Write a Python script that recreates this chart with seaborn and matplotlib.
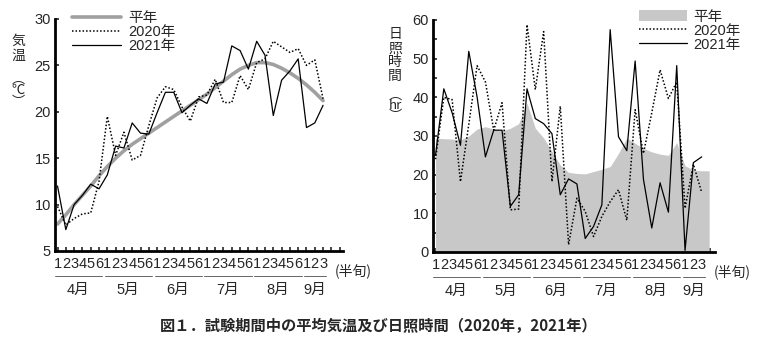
import numpy as np
import pandas as pd
import matplotlib
matplotlib.use("Agg")
import matplotlib.pyplot as plt
import seaborn as sns

# --- data -------------------------------------------------------------
pentad_labels = ["1", "2", "3", "4", "5", "6"] * 5 + ["1", "2", "3"]
months = ["4月", "5月", "6月", "7月", "8月", "9月"]
pentads_per_month = [6, 6, 6, 6, 6, 3]

temp_normal = [7.9, 8.9, 10.0, 11.0, 12.0, 13.1, 14.1, 15.0, 15.8, 16.5, 17.1,
               17.7, 18.3, 18.9, 19.5, 20.1, 20.7, 21.3, 21.9, 22.6, 23.3, 24.0,
               24.6, 25.0, 25.3, 25.3, 25.1, 24.7, 24.2, 23.6, 22.9, 22.1, 21.2]
temp_2020 = [9.8, 7.8, 8.5, 9.0, 9.1, 12.5, 19.5, 15.3, 17.8, 14.8, 15.3,
             18.5, 21.5, 22.7, 22.4, 20.5, 19.0, 21.6, 21.8, 23.5, 21.0, 21.0,
             23.9, 22.4, 25.3, 25.7, 27.6, 27.0, 26.4, 26.8, 25.0, 25.6, 21.4]
temp_2021 = [12.0, 7.3, 10.0, 11.0, 12.2, 11.7, 13.2, 16.3, 16.1, 18.8, 17.7,
             17.6, 19.9, 22.1, 22.1, 19.9, 20.7, 21.4, 20.9, 23.0, 23.2, 27.1,
             26.6, 24.6, 27.6, 26.1, 19.6, 23.4, 24.4, 25.7, 18.3, 18.8, 20.7]

sun_normal = [29.4, 29.3, 29.2, 29.0, 30.0, 31.8, 32.4, 31.8, 31.3, 32.0, 33.2,
              38.5, 32.0, 29.5, 26.0, 22.5, 20.6, 20.3, 20.2, 20.8, 21.4, 22.1,
              25.5, 29.5, 28.1, 26.8, 25.9, 25.3, 25.0, 28.3, 22.3, 21.2, 21.0]
sun_2020 = [24.0, 40.0, 39.4, 18.2, 33.0, 48.2, 44.0, 31.5, 38.6, 10.9, 11.1,
            58.8, 42.0, 57.0, 18.2, 37.7, 1.9, 13.9, 10.5, 4.0, 9.2, 13.0,
            16.1, 8.2, 36.8, 25.5, 36.0, 47.1, 39.7, 44.0, 11.3, 22.7, 15.4]
sun_2021 = [25.0, 42.2, 36.0, 27.6, 51.9, 40.1, 24.6, 31.5, 31.5, 11.8, 14.8,
            42.2, 34.5, 33.2, 30.6, 14.8, 18.9, 17.6, 3.5, 6.6, 12.2, 57.5,
            29.8, 26.2, 49.4, 18.8, 6.2, 17.9, 10.3, 48.2, 0.4, 23.1, 24.6]

idx = np.arange(len(pentad_labels))
temp_df = pd.DataFrame({"idx": idx, "平年": temp_normal,
                        "2020年": temp_2020, "2021年": temp_2021})
sun_df = pd.DataFrame({"idx": idx, "平年": sun_normal,
                       "2020年": sun_2020, "2021年": sun_2021})

# --- style --------------------------------------------------------------
sns.set_style("ticks")
plt.rcParams["font.family"] = ["Liberation Sans", "Noto Sans CJK JP", "DejaVu Sans"]
plt.rcParams["font.size"] = 10.5

DOT = (0, (1.0, 1.3))
GRAY_LINE = "#a0a0a0"
GRAY_FILL = "#c8c8c8"

fig = plt.figure(figsize=(7.57, 3.46), dpi=100)
ax1 = fig.add_axes([0.0727, 0.2746, 0.3804, 0.6705])
ax2 = fig.add_axes([0.572, 0.2717, 0.3725, 0.6705])

# --- temperature panel ---------------------------------------------------
sns.lineplot(data=temp_df, x="idx", y="平年", ax=ax1, color=GRAY_LINE,
             lw=2.6, label="平年")
sns.lineplot(data=temp_df, x="idx", y="2020年", ax=ax1, color="black",
             lw=1.1, linestyle=DOT, label="2020年")
sns.lineplot(data=temp_df, x="idx", y="2021年", ax=ax1, color="black",
             lw=0.9, label="2021年")
ax1.set_ylim(5, 30)
ax1.set_yticks([5, 10, 15, 20, 25, 30])
ax1.set_xlim(-0.3, 34.4)

# --- sunshine panel ------------------------------------------------------
# the normal-year band runs on to the end of the last pentad
x_fill = np.append(sun_df["idx"].to_numpy(), len(idx) - 0.1)
y_fill = np.append(sun_df["平年"].to_numpy(), sun_normal[-1])
ax2.fill_between(x_fill, 0, y_fill, color=GRAY_FILL, lw=0, label="平年")
sns.lineplot(data=sun_df, x="idx", y="2020年", ax=ax2, color="black",
             lw=1.1, linestyle=DOT, label="2020年")
sns.lineplot(data=sun_df, x="idx", y="2021年", ax=ax2, color="black",
             lw=0.9, label="2021年")
ax2.set_ylim(0, 60)
ax2.set_yticks(range(0, 61, 10))
ax2.set_yticks(range(5, 60, 10), minor=True)
ax2.set_xlim(-0.3, 33.6)

# --- shared axis decoration ----------------------------------------------
for ax, nticks in ((ax1, 35), (ax2, 34)):
    sns.despine(ax=ax)
    for side in ("left", "bottom"):
        ax.spines[side].set_linewidth(2.0)
        ax.spines[side].set_color("black")
    ax.set_xticks(range(nticks))
    ax.set_xticklabels(pentad_labels + [""] * (nticks - len(pentad_labels)))
    ax.tick_params(axis="x", direction="in", length=3, width=1.2, pad=4,
                   labelsize=10.5)
    ax.tick_params(axis="y", which="both", direction="in", length=3,
                   width=1.2, pad=3, labelsize=10.5)
    ax.set_xlabel("")
    ax.set_ylabel("")
    ax.patch.set_alpha(0)

    # unit label after the pentad numbers
    ax.annotate("(半旬)", xy=(len(pentad_labels) - 0.5, 0),
                xycoords=("data", "axes fraction"), xytext=(5.5, -14),
                textcoords="offset points", ha="left", va="center",
                fontsize=10, family=["Noto Sans CJK JP"])

    # month groups: a thin rule under each group and the month name below it
    xaxis_tr = ax.get_xaxis_transform()
    start = 0
    for m, n in zip(months, pentads_per_month):
        lo, hi = start - 0.3, start + n - 0.6
        ax.plot([lo, hi], [-0.108, -0.108], transform=xaxis_tr,
                color="#666666", lw=0.7, clip_on=False)
        ax.annotate(m, xy=((2 * start + n - 1) / 2, 0),
                    xycoords=("data", "axes fraction"), xytext=(0, -28),
                    textcoords="offset points", ha="center", va="center",
                    fontsize=10.5)
        start += n

# --- legends -----------------------------------------------------------
leg1 = ax1.legend(loc="upper left", bbox_to_anchor=(0.04, 1.06), frameon=False,
                  handlelength=3.3, handletextpad=0.5, labelspacing=0.0,
                  borderaxespad=0, fontsize=10.5)
leg2 = ax2.legend(loc="upper left", bbox_to_anchor=(0.71, 1.07), frameon=False,
                  handlelength=3.3, handletextpad=0.4, labelspacing=0.0,
                  borderaxespad=0, fontsize=10.5)
for leg in (leg1, leg2):
    for t in leg.get_texts():
        t.set_family(["Liberation Sans", "Noto Sans CJK JP"])

# --- vertical axis titles ------------------------------------------------
fig.text(0.024, 0.86, "気\n温", ha="center", va="center", fontsize=10,
         linespacing=1.05, family=["Noto Sans CJK JP"])
fig.text(0.024, 0.79, "︵\n℃\n︶", ha="center", va="top", fontsize=9.5,
         linespacing=0.85, family=["Noto Sans CJK JP"])
fig.text(0.522, 0.84, "日\n照\n時\n間", ha="center", va="center", fontsize=10,
         linespacing=1.0, family=["Noto Sans CJK JP"])
fig.text(0.522, 0.745, "︵\nhr\n︶", ha="center", va="top", fontsize=9.5,
         linespacing=0.8, family=["Noto Sans CJK JP"])

# --- caption ------------------------------------------------------------
fig.text(0.5, 0.058, "図１．試験期間中の平均気温及び日照時間（2020年，2021年）",
         ha="center", va="center", fontsize=11, fontweight="bold",
         family=["Noto Sans CJK JP"])

fig.savefig("out.png", dpi=100)
